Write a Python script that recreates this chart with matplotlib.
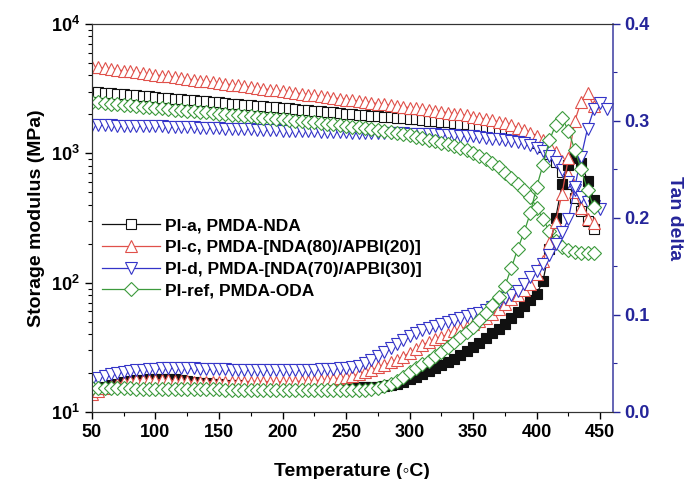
import math
import matplotlib
matplotlib.use("Agg")
import matplotlib.pyplot as plt
import matplotlib.ticker as ticker

plt.rcParams['font.family'] = ['Liberation Sans', 'DejaVu Sans']
plt.rcParams['font.weight'] = 'bold'
plt.rcParams['mathtext.fontset'] = 'custom'
plt.rcParams['mathtext.bf'] = 'Liberation Sans:bold'
plt.rcParams['mathtext.rm'] = 'Liberation Sans:bold'

# temperature grid (step 5 C)
temp = list(range(50, 450, 5))        # 50 .. 445
temp_d = list(range(50, 460, 5))      # 50 .. 455 (PI-d tan delta)
temp_d_e = list(range(50, 455, 5))    # 50 .. 450 (PI-d storage)

# storage modulus (MPa)
e_pia = [3000, 2970, 2940, 2910, 2885, 2855, 2830, 2800, 2775, 2750,
         2720, 2695, 2670, 2645, 2620, 2590, 2565, 2540, 2520, 2495,
         2470, 2445, 2420, 2400, 2375, 2350, 2330, 2305, 2285, 2260,
         2240, 2220, 2195, 2175, 2155, 2135, 2110, 2090, 2070, 2050,
         2030, 2010, 1990, 1975, 1955, 1935, 1915, 1900, 1880, 1860,
         1845, 1825, 1805, 1790, 1770, 1755, 1735, 1715, 1695, 1675,
         1650, 1625, 1590, 1560, 1530, 1490, 1450, 1400, 1350, 1290,
         1210, 1120, 980, 850, 720, 580, 450, 360, 300, 260]
e_pic = [4680, 4610, 4540, 4480, 4410, 4350, 4290, 4220, 4160, 4100,
         4040, 3985, 3925, 3870, 3815, 3760, 3705, 3650, 3595, 3545,
         3495, 3440, 3390, 3345, 3295, 3245, 3200, 3155, 3105, 3060,
         3020, 2975, 2930, 2890, 2845, 2805, 2765, 2725, 2685, 2645,
         2605, 2570, 2530, 2495, 2460, 2425, 2390, 2355, 2320, 2285,
         2255, 2220, 2190, 2155, 2125, 2095, 2060, 2030, 1995, 1960,
         1920, 1880, 1840, 1800, 1750, 1700, 1640, 1580, 1510, 1440,
         1350, 1260, 1150, 1020, 870, 690, 500, 380, 310, 290]
e_pid = [1650, 1647, 1644, 1641, 1638, 1635, 1632, 1629, 1626, 1623,
         1620, 1614, 1608, 1602, 1596, 1590, 1584, 1578, 1572, 1566,
         1560, 1554, 1548, 1542, 1536, 1530, 1524, 1518, 1512, 1506,
         1500, 1495, 1490, 1485, 1480, 1475, 1470, 1465, 1460, 1455,
         1450, 1447, 1444, 1441, 1438, 1435, 1432, 1429, 1426, 1423,
         1420, 1415, 1410, 1405, 1400, 1395, 1390, 1382, 1372, 1362,
         1350, 1335, 1320, 1300, 1285, 1268, 1250, 1225, 1195, 1150,
         1100, 1040, 960, 860, 740, 600, 520, 460, 420, 390,
         370]
e_ref = [2500, 2470, 2445, 2420, 2395, 2370, 2345, 2320, 2295, 2270,
         2250, 2225, 2200, 2180, 2155, 2135, 2110, 2090, 2070, 2050,
         2030, 2010, 1990, 1970, 1950, 1930, 1910, 1890, 1870, 1850,
         1830, 1810, 1790, 1770, 1750, 1730, 1715, 1695, 1675, 1655,
         1635, 1610, 1590, 1565, 1540, 1515, 1490, 1460, 1435, 1405,
         1375, 1345, 1310, 1275, 1240, 1205, 1170, 1135, 1095, 1055,
         1010, 960, 905, 845, 780, 710, 640, 580, 520, 460,
         380, 310, 250, 210, 190, 178, 172, 170, 168, 168]

# tan delta
tan_pia = [0.022, 0.024, 0.026, 0.028, 0.029, 0.031, 0.032, 0.033, 0.033, 0.034,
           0.034, 0.034, 0.034, 0.034, 0.033, 0.032, 0.031, 0.030, 0.030, 0.029,
           0.029, 0.028, 0.028, 0.028, 0.027, 0.027, 0.027, 0.027, 0.026, 0.026,
           0.026, 0.026, 0.026, 0.026, 0.026, 0.026, 0.026, 0.026, 0.026, 0.026,
           0.026, 0.026, 0.026, 0.026, 0.026, 0.026, 0.027, 0.028, 0.029, 0.031,
           0.034, 0.036, 0.039, 0.042, 0.045, 0.048, 0.052, 0.055, 0.059, 0.063,
           0.067, 0.071, 0.076, 0.081, 0.086, 0.091, 0.097, 0.103, 0.109, 0.115,
           0.122, 0.135, 0.168, 0.200, 0.235, 0.255, 0.262, 0.257, 0.238, 0.219]
tan_pic = [0.019, 0.022, 0.025, 0.027, 0.029, 0.031, 0.032, 0.033, 0.033, 0.033,
           0.033, 0.033, 0.033, 0.032, 0.032, 0.032, 0.031, 0.031, 0.031, 0.031,
           0.031, 0.031, 0.031, 0.031, 0.031, 0.031, 0.031, 0.031, 0.031, 0.031,
           0.031, 0.031, 0.031, 0.032, 0.032, 0.032, 0.033, 0.033, 0.034, 0.035,
           0.036, 0.037, 0.039, 0.041, 0.043, 0.046, 0.048, 0.051, 0.054, 0.057,
           0.061, 0.065, 0.069, 0.072, 0.075, 0.077, 0.080, 0.083, 0.085, 0.088,
           0.091, 0.094, 0.097, 0.101, 0.106, 0.111, 0.116, 0.121, 0.126, 0.132,
           0.142, 0.156, 0.174, 0.196, 0.225, 0.262, 0.300, 0.320, 0.329, 0.315]
tan_pid = [0.033, 0.035, 0.037, 0.039, 0.040, 0.041, 0.042, 0.043, 0.043, 0.044,
           0.044, 0.045, 0.045, 0.045, 0.045, 0.045, 0.045, 0.044, 0.044, 0.044,
           0.044, 0.044, 0.043, 0.043, 0.043, 0.043, 0.043, 0.043, 0.043, 0.043,
           0.043, 0.043, 0.043, 0.043, 0.043, 0.043, 0.044, 0.044, 0.044, 0.045,
           0.045, 0.046, 0.047, 0.050, 0.054, 0.058, 0.062, 0.066, 0.070, 0.074,
           0.078, 0.081, 0.084, 0.087, 0.089, 0.091, 0.093, 0.095, 0.097, 0.099,
           0.101, 0.102, 0.105, 0.108, 0.113, 0.117, 0.121, 0.125, 0.132, 0.139,
           0.145, 0.153, 0.162, 0.173, 0.185, 0.199, 0.232, 0.263, 0.292, 0.312,
           0.318, 0.312]
tan_ref = [0.025, 0.025, 0.025, 0.025, 0.025, 0.025, 0.025, 0.024, 0.024, 0.024,
           0.024, 0.024, 0.024, 0.024, 0.024, 0.024, 0.024, 0.024, 0.024, 0.024,
           0.024, 0.023, 0.023, 0.023, 0.023, 0.023, 0.023, 0.023, 0.023, 0.023,
           0.023, 0.023, 0.023, 0.023, 0.023, 0.023, 0.023, 0.023, 0.023, 0.023,
           0.023, 0.023, 0.023, 0.023, 0.024, 0.025, 0.027, 0.029, 0.032, 0.036,
           0.041, 0.045, 0.049, 0.053, 0.058, 0.062, 0.067, 0.072, 0.077, 0.082,
           0.088, 0.095, 0.102, 0.110, 0.118, 0.130, 0.148, 0.168, 0.185, 0.205,
           0.232, 0.255, 0.280, 0.296, 0.303, 0.290, 0.270, 0.250, 0.229, 0.211]

labels = ["PI-a, PMDA-NDA",
          "PI-c, PMDA-[NDA(80)/APBI(20)]",
          "PI-d, PMDA-[NDA(70)/APBI(30)]",
          "PI-ref, PMDA-ODA"]

BLACK = "#111111"
RED = "#e0504a"
BLUE = "#3434c8"
GREEN = "#3c9a3c"
NAVY = "#25259a"

fig = plt.figure(figsize=(6.91, 4.79), dpi=100)
ax = fig.add_axes([0.133, 0.140, 0.754, 0.810])
ax2 = ax.twinx()

common = dict(linewidth=0.9, markeredgewidth=0.8)

# storage modulus
l1, = ax.plot(temp, e_pia, color=BLACK, marker="s", markersize=7,
              markerfacecolor="white", label=labels[0], **common)
l2, = ax.plot(temp, e_pic, color=RED, marker="^", markersize=8.5,
              markerfacecolor="white", label=labels[1], **common)
l3, = ax.plot(temp_d_e, e_pid, color=BLUE, marker="v", markersize=8.5,
              markerfacecolor="white", label=labels[2], **common)
l4, = ax.plot(temp, e_ref, color=GREEN, marker="D", markersize=7,
              markerfacecolor="white", label=labels[3], **common)

# tan delta
ax2.plot(temp, tan_pia, color=BLACK, marker="s", markersize=7,
         markerfacecolor=BLACK, **common)
ax2.plot(temp, tan_pic, color=RED, marker="^", markersize=8.5,
         markerfacecolor="white", **common)
ax2.plot(temp_d, tan_pid, color=BLUE, marker="v", markersize=8.5,
         markerfacecolor="white", **common)
ax2.plot(temp, tan_ref, color=GREEN, marker="D", markersize=7,
         markerfacecolor="white", **common)

# axes
ax.set_xlim(50, 460)
ax.set_yscale("log")
ax.set_ylim(10, 1e4)
ax2.set_ylim(0, 0.4)

ax.xaxis.set_major_locator(ticker.MultipleLocator(50))
ax.xaxis.set_minor_locator(ticker.MultipleLocator(25))
ax.yaxis.set_major_formatter(ticker.FuncFormatter(
    lambda v, p: r"$\mathbf{10^{%d}}$" % round(math.log10(v))))
ax2.yaxis.set_major_locator(ticker.MultipleLocator(0.1))
ax2.yaxis.set_minor_locator(ticker.MultipleLocator(0.05))
ax2.yaxis.set_major_formatter(ticker.FormatStrFormatter("%.1f"))

ax.tick_params(which="major", direction="out", length=5, width=1,
               labelsize=13, top=False, right=False)
ax.tick_params(which="minor", direction="out", length=3, width=0.8,
               top=False, right=False)
ax2.tick_params(which="major", direction="out", length=5, width=1,
                labelsize=13, colors=NAVY)
ax2.tick_params(which="minor", direction="out", length=3, width=0.8,
                colors=NAVY)

for s in ["left", "bottom", "top"]:
    ax.spines[s].set_color("#333333")
    ax2.spines[s].set_color("#333333")
ax2.spines["right"].set_color("#4a4aa8")
ax2.spines["right"].set_linewidth(1.2)
ax.spines["right"].set_visible(False)

ax.set_xlabel("Temperature (\u25e6C)", fontsize=14, fontweight="bold", labelpad=16)
ax.set_ylabel("Storage modulus (MPa)", fontsize=14, fontweight="bold", labelpad=4)
ax2.set_ylabel("Tan delta", fontsize=14, fontweight="bold", color=NAVY,
               rotation=270, labelpad=24)

ax.legend(handles=[l1, l2, l3, l4], loc="upper left",
          bbox_to_anchor=(0.02, 0.50), frameon=False, fontsize=12.5,
          handlelength=3.3, handletextpad=0.3, labelspacing=0.38,
          borderpad=0, borderaxespad=0)

fig.savefig("out.png", dpi=100)
